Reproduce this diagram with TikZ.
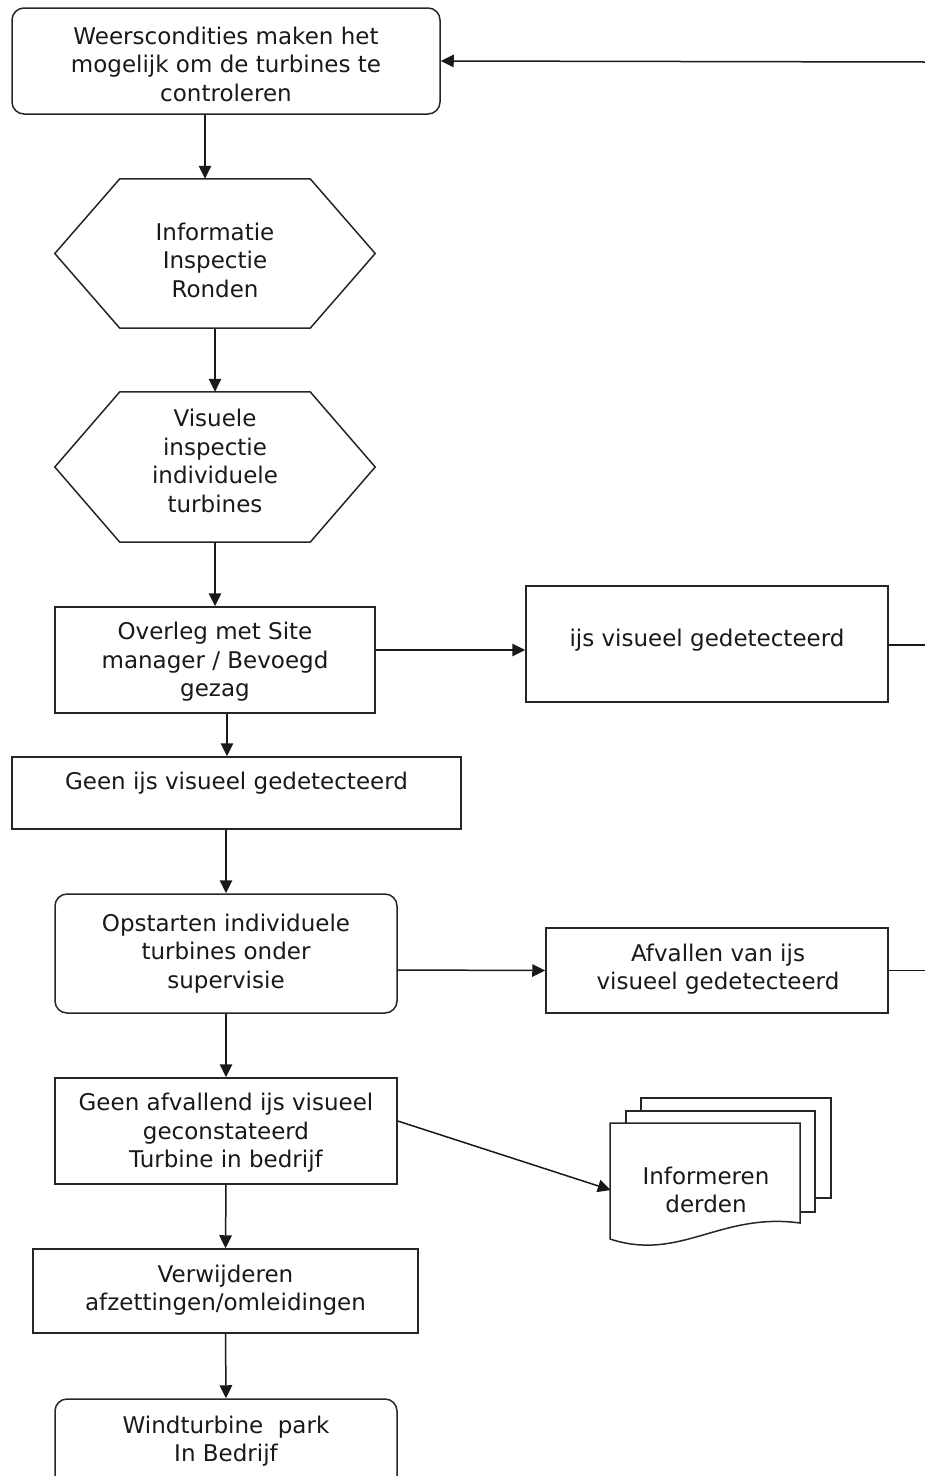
\documentclass[tikz,border=0pt]{standalone}
\usepackage{fontspec}
\setmainfont{DejaVu Sans}
\usetikzlibrary{arrows.meta}
\begin{document}
\begin{tikzpicture}[x=1pt,y=-1pt,
  every node/.style={font=\fontsize{23}{28.5}\selectfont, align=center, inner sep=0pt, text=black!90},
  box/.style={draw=black!85, line width=1.5pt, fill=white},
  rbox/.style={box, rounded corners=12pt},
  shapeline/.style={draw=black!85, line width=1.5pt},
  line/.style={line width=1.5pt, black!90},
  arr/.style={line, -{Triangle[length=13pt,width=12.5pt]}}]
\useasboundingbox (0,0) rectangle (925,1476);
\clip (0,0) rectangle (925,1476);

% boxes
\node[rbox, minimum width=428pt, minimum height=106pt] (top) at (226,61) {};
\node (topt) at (226,64)
  {Weerscondities maken het\\mogelijk om de turbines te\\controleren};

\node[minimum width=320pt, minimum height=149pt] (h1) at (215,253.5) {};
\draw[shapeline] (h1.west) -- ([xshift=65pt]h1.north west) -- ([xshift=-65pt]h1.north east)
  -- (h1.east) -- ([xshift=-65pt]h1.south east) -- ([xshift=65pt]h1.south west) -- cycle;
\node (h1t) at (215,260) {Informatie\\Inspectie\\Ronden};

\node[minimum width=320pt, minimum height=150pt] (h2) at (215,467) {};
\draw[shapeline] (h2.west) -- ([xshift=65pt]h2.north west) -- ([xshift=-65pt]h2.north east)
  -- (h2.east) -- ([xshift=-65pt]h2.south east) -- ([xshift=65pt]h2.south west) -- cycle;
\node (h2t) at (215,461) {Visuele\\inspectie\\individuele\\turbines};

\node[box, minimum width=320pt, minimum height=106pt] (ov) at (215,660) {};
\node (ovt) at (215,662) {Overleg met Site\\manager / Bevoegd\\gezag};

\node[box, minimum width=362pt, minimum height=116pt] (ijs) at (707,644) {};
\node (ijst) at (707,640) {ijs visueel gedetecteerd};

\node[box, minimum width=449pt, minimum height=72pt] (gi) at (236.5,793) {};
\node (git) at (236.5,783) {Geen ijs visueel gedetecteerd};

\node[rbox, minimum width=342pt, minimum height=119pt] (op) at (226,953.5) {};
\node (opt) at (226,953.5) {Opstarten individuele\\turbines onder\\supervisie};

\node[box, minimum width=342pt, minimum height=85pt] (af) at (717,970.5) {};
\node (aft) at (718,969) {Afvallen van ijs\\visueel gedetecteerd};

\node[box, minimum width=342pt, minimum height=106pt] (ga) at (226,1131) {};
\node (gat) at (226,1133) {Geen afvallend ijs visueel\\geconstateerd\\Turbine in bedrijf};

\node[box, minimum width=385pt, minimum height=84pt] (vw) at (225.5,1291) {};
\node (vwt) at (225.5,1290) {Verwijderen\\afzettingen/omleidingen};

\node[rbox, minimum width=342pt, minimum height=96pt] (wt) at (226,1447) {};
\node (wtt) at (226,1441) {Windturbine~ park\\In Bedrijf};

% multi-document
\draw[shapeline, fill=white] (641,1098) rectangle (831,1198);
\draw[shapeline, fill=white] (626,1111) rectangle (815,1212);
\draw[shapeline, fill=white] (610,1123) -- (800,1123) -- (800,1223)
  .. controls (720,1212) and (680,1262) .. (610,1239) -- cycle;
\node[minimum width=190pt, minimum height=100pt] (doc) at (706,1190) {Informeren\\derden};

% free ends at the right edge
\coordinate (r0) at (925,62);
\coordinate (r1) at (925,645);
\coordinate (r2) at (925,970.5);

% connectors
\draw[arr] (r0) -- (top.east);
\draw[arr] ([xshift=-21pt]top.south) -- ([xshift=-10pt]h1.north);
\draw[arr] (h1.south) -- (h2.north);
\draw[arr] (h2.south) -- (ov.north);
\draw[arr] ([yshift=10pt]ov.east) -- ([yshift=-6pt]ijs.west);
\draw[line] ([yshift=-1pt]ijs.east) -- (r1);
\draw[arr] ([xshift=12pt]ov.south) -- ([xshift=-9.5pt]gi.north);
\draw[arr] ([xshift=-10.5pt]gi.south) -- (op.north);
\draw[arr] ([yshift=-16.5pt]op.east) -- (af.west);
\draw[line] (af.east) -- (r2);
\draw[arr] (op.south) -- (ga.north);
\draw[arr] ([yshift=10pt]ga.east) -- (doc.west);
\draw[arr] (ga.south) -- (vw.north);
\draw[arr] (vw.south) -- (wt.north);
\end{tikzpicture}
\end{document}
